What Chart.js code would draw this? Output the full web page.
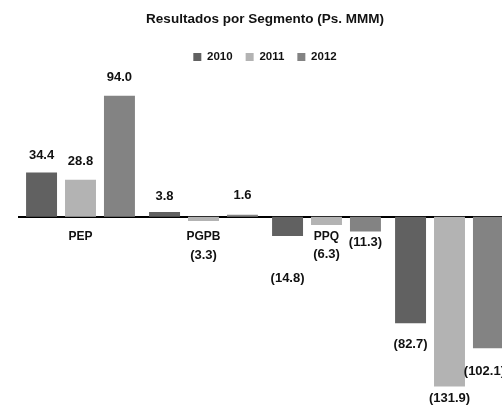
<!DOCTYPE html>
<html>
<head>
<meta charset="utf-8">
<script src="https://cdn.jsdelivr.net/npm/chart.js@4"></script>
<style>
  html, body { margin: 0; padding: 0; background: #fff; overflow: hidden; }
  #wrap { width: 530px; height: 406px; }
</style>
</head>
<body>
<div id="wrap"><canvas id="myChart" width="530" height="406"></canvas></div>
<script>
'use strict';

// Data
const segments = ['PEP', 'PGPB', 'PPQ', 'PR'];
const years = ['2010', '2011', '2012'];
const values2010 = [34.4, 3.8, -14.8, -82.7];
const values2011 = [28.8, -3.3, -6.3, -131.9];
const values2012 = [94.0, 1.6, -11.3, -102.1];

// how far each value label sits from the end of its bar (px)
const labelGap2010 = [17, 16, 43, 21];
const labelGap2011 = [18, 34, 29, 12];
const labelGap2012 = [18, 19, 11, 23];

const barColors = ['#616161', '#b3b3b3', '#838383'];
const fontFamily = '"Liberation Sans", Arial, sans-serif';

const ctx = document.getElementById('myChart');

// Helper: format like the original, negatives in brackets
function formatValue(v){
  if(v < 0){
    return '(' + Math.abs(v).toFixed(1) + ')';
  }
  return v.toFixed(1);
}

// draws the value labels next to the bars
const valueLabels = {
  id: 'valueLabels',
  afterDatasetsDraw(chart){
    const c = chart.ctx;
    const right = chart.chartArea.right - 6;
    c.save();
    c.font = 'bold 13px ' + fontFamily;
    c.fillStyle = '#111';
    c.textAlign = 'center';
    c.textBaseline = 'middle';
    chart.data.datasets.forEach(function(ds, i){
      const meta = chart.getDatasetMeta(i);
      meta.data.forEach(function(bar, j){
        const v = ds.data[j];
        const gap = ds.labelGap[j];
        const txt = formatValue(v);
        const w = c.measureText(txt).width;
        // keep the label inside the plot like the original does
        const x = Math.min(bar.x, right - w / 2);
        const y = v < 0 ? bar.y + gap : bar.y - gap;
        c.fillText(txt, x, y);
      });
    });
    c.restore();
  }
};

const chartObj = {
  type: 'bar',
  data: {
    labels: segments,
    datasets: [
      { label: years[0], data: values2010, labelGap: labelGap2010, backgroundColor: barColors[0] },
      { label: years[1], data: values2011, labelGap: labelGap2011, backgroundColor: barColors[1] },
      { label: years[2], data: values2012, labelGap: labelGap2012, backgroundColor: barColors[2] }
    ]
  },
  options: {
    responsive: false,
    animation: false,
    layout: { padding: { left: 19, right: 19, top: 0, bottom: 9 } },
    datasets: {
      bar: { barPercentage: 0.795, categoryPercentage: 0.95 }
    },
    plugins: {
      title: {
        display: true,
        text: 'Resultados por Segmento (Ps. MMM)',
        color: '#111',
        font: { family: fontFamily, size: 13.5, weight: 'bold' },
        padding: { top: 11, bottom: 11 }
      },
      legend: {
        display: true,
        labels: {
          color: '#111',
          font: { family: fontFamily, size: 11.5, weight: 'bold' },
          boxWidth: 8,
          boxHeight: 8,
          padding: 13
        }
      },
      tooltip: { enabled: false }
    },
    scales: {
      x: {
        position: { y: 0 },
        grid: { display: false, drawTicks: false },
        border: { display: true, color: '#000', width: 2 },
        ticks: {
          color: '#111',
          font: { family: fontFamily, size: 12, weight: 'bold' },
          padding: 13
        }
      },
      y: {
        display: false,
        min: -140,
        max: 112
      }
    }
  },
  plugins: [valueLabels]
};

new Chart(ctx, chartObj);
</script>
</body>
</html>
